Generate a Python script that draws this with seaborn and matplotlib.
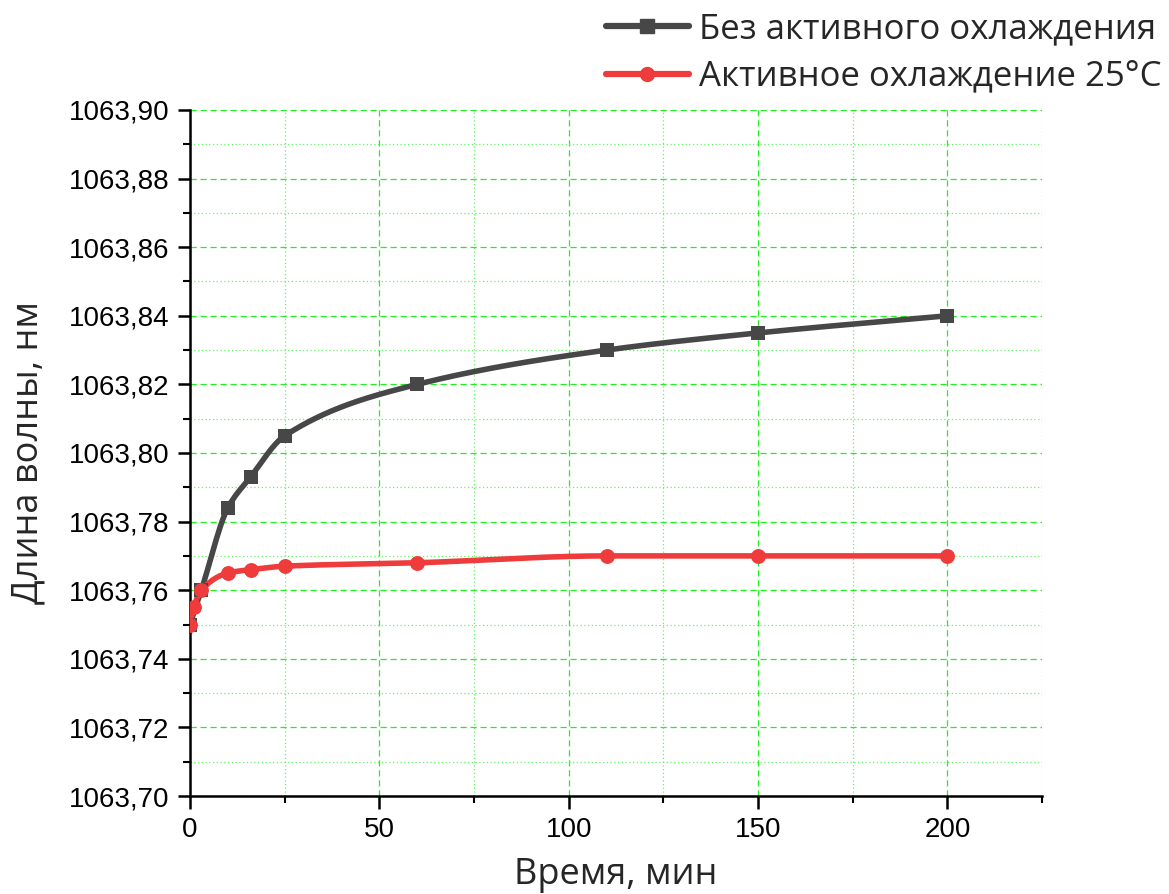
import numpy as np
import pandas as pd
import matplotlib
matplotlib.use("Agg")
import matplotlib.pyplot as plt
import matplotlib.ticker as mticker
import seaborn as sns

sns.set_theme(style="ticks")

# ── Data ─────────────────────────────────────────────────────────────────────
time_no_cool = [0, 3, 10, 16, 25, 60, 110, 150, 200]
wl_no_cool = [1063.750, 1063.760, 1063.784, 1063.793, 1063.805,
              1063.820, 1063.830, 1063.835, 1063.840]

time_cool = [0, 1, 3, 10, 16, 25, 60, 110, 150, 200]
wl_cool = [1063.750, 1063.755, 1063.760, 1063.765, 1063.766, 1063.767,
           1063.768, 1063.770, 1063.770, 1063.770]

labels = ["Без активного охлаждения", "Активное охлаждение 25°C"]
colors = ["#474747", "#ef3b3b"]
markers = ["s", "o"]


def pchip(x, y, n=400):
    # monotone cubic path, only used to draw the smooth connecting line
    x = np.asarray(x, float)
    y = np.asarray(y, float)
    h = np.diff(x)
    d = np.diff(y) / h
    m = np.zeros_like(y)
    for k in range(1, len(x) - 1):
        if d[k - 1] * d[k] > 0:
            w1 = 2 * h[k] + h[k - 1]
            w2 = h[k] + 2 * h[k - 1]
            m[k] = (w1 + w2) / (w1 / d[k - 1] + w2 / d[k])
    m[0] = d[0]
    m[-1] = d[-1]
    xs = np.linspace(x[0], x[-1], n)
    idx = np.clip(np.searchsorted(x, xs) - 1, 0, len(x) - 2)
    t = (xs - x[idx]) / h[idx]
    h00 = 2 * t**3 - 3 * t**2 + 1
    h10 = t**3 - 2 * t**2 + t
    h01 = -2 * t**3 + 3 * t**2
    h11 = t**3 - t**2
    ys = h00 * y[idx] + h10 * h[idx] * m[idx] + h01 * y[idx + 1] + h11 * h[idx] * m[idx + 1]
    return xs, ys


fig = plt.figure(figsize=(11.69, 8.94), dpi=100)
ax = fig.add_axes([0.1625, 0.1096, 0.7289, 0.7674])

series = [(time_no_cool, wl_no_cool), (time_cool, wl_cool)]
handles = []
for (tx, wy), lab, col, mk in zip(series, labels, colors, markers):
    xs, ys = pchip(tx, wy)
    sns.lineplot(x=xs, y=ys, ax=ax, color=col, linewidth=4, zorder=3)
    sns.scatterplot(x=tx, y=wy, ax=ax, color=col, marker=mk, s=115,
                    edgecolor=col, linewidth=0, zorder=4)
    handles.append(plt.Line2D([], [], color=col, linewidth=4.5, marker=mk,
                              markersize=10, label=lab))

ax.set_xlim(0, 225)
ax.set_ylim(1063.70, 1063.90)
ax.xaxis.set_major_locator(mticker.MultipleLocator(50))
ax.xaxis.set_minor_locator(mticker.MultipleLocator(25))
ax.yaxis.set_major_locator(mticker.MultipleLocator(0.02))
ax.yaxis.set_minor_locator(mticker.MultipleLocator(0.01))
ax.yaxis.set_major_formatter(mticker.FuncFormatter(lambda v, _: f"{v:.2f}".replace(".", ",")))

ax.grid(which="major", color="#22ee22", linestyle=(0, (5, 3)), linewidth=0.9)
ax.grid(which="minor", color="#66f066", linestyle=(0, (1, 2)), linewidth=0.9)
ax.set_axisbelow(True)

for s in ["top", "right"]:
    ax.spines[s].set_visible(False)
for s in ["left", "bottom"]:
    ax.spines[s].set_linewidth(1.8)
    ax.spines[s].set_color("black")

ax.tick_params(which="major", direction="out", length=9, width=1.8,
               labelsize=20, pad=6, colors="black")
ax.tick_params(which="minor", direction="out", length=5, width=1.5, colors="black")
for t in ax.get_xticklabels() + ax.get_yticklabels():
    t.set_fontfamily("Liberation Sans")

ax.set_xlabel("Время, мин", fontsize=26, family="Open Sans", labelpad=10)
ax.set_ylabel("Длина волны, нм", fontsize=26, family="Open Sans", labelpad=16)

fig.legend(handles=handles, loc="upper left", bbox_to_anchor=(0.518, 0.986),
           frameon=False, borderpad=0, borderaxespad=0,
           prop={"family": "Open Sans", "size": 25},
           handlelength=2.4, handletextpad=0.3, labelspacing=0.38)

fig.savefig("out.png", dpi=100)
